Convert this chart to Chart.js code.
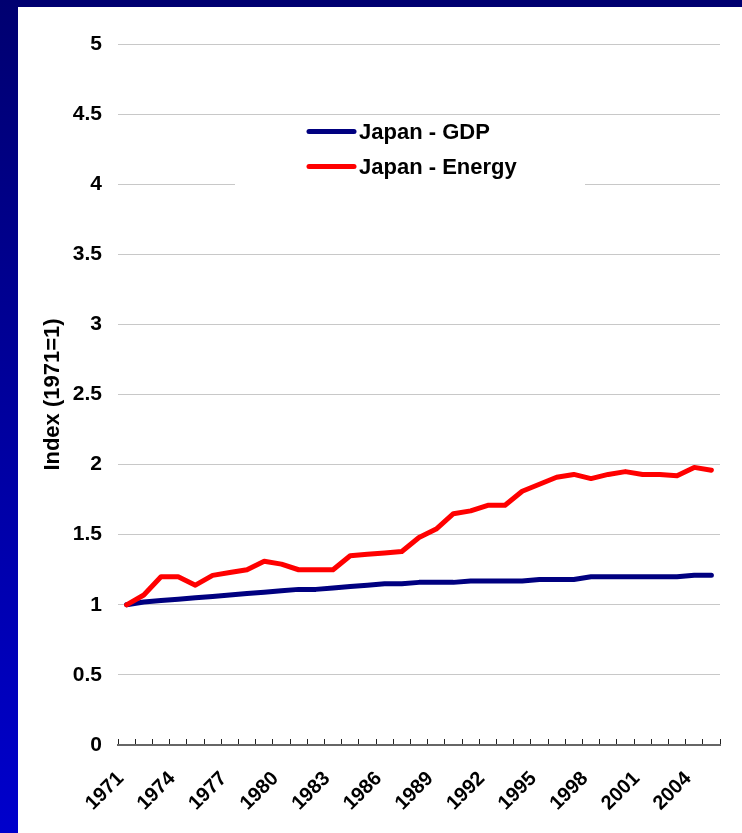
<!DOCTYPE html>
<html>
<head>
<meta charset="utf-8">
<script src="https://cdn.jsdelivr.net/npm/chart.js@4/dist/chart.umd.min.js"></script>
<style>
    html, body {
        margin: 0;
        padding: 0;
    }
    body {
        width: 742px;
        height: 833px;
        overflow: hidden;
        background: linear-gradient(to bottom, #000070, #0000cc);
        position: relative;
    }
    .panel {
        position: absolute;
        left: 18px;
        top: 7px;
        width: 724px;
        height: 826px;
        background: #ffffff;
    }
</style>
</head>
<body>
<div class="panel">
    <canvas id="indexChart" width="724" height="826"></canvas>
</div>
<script>
const years = [
    '1971', '1972', '1973', '1974', '1975', '1976', '1977', '1978', '1979', '1980',
    '1981', '1982', '1983', '1984', '1985', '1986', '1987', '1988', '1989', '1990',
    '1991', '1992', '1993', '1994', '1995', '1996', '1997', '1998', '1999', '2000',
    '2001', '2002', '2003', '2004', '2005'
];

const japanGdp = [
    1.00, 1.02, 1.03, 1.04, 1.05, 1.06, 1.07, 1.08, 1.09, 1.10,
    1.11, 1.11, 1.12, 1.13, 1.14, 1.15, 1.15, 1.16, 1.16, 1.16,
    1.17, 1.17, 1.17, 1.17, 1.18, 1.18, 1.18, 1.20, 1.20, 1.20,
    1.20, 1.20, 1.20, 1.21, 1.21
];

const japanEnergy = [
    1.00, 1.07, 1.20, 1.20, 1.14, 1.21, 1.23, 1.25, 1.31, 1.29,
    1.25, 1.25, 1.25, 1.35, 1.36, 1.37, 1.38, 1.48, 1.54, 1.65,
    1.67, 1.71, 1.71, 1.81, 1.86, 1.91, 1.93, 1.90, 1.93, 1.95,
    1.93, 1.93, 1.92, 1.98, 1.96
];

const seriesNames = ['Japan - GDP', 'Japan - Energy'];
const seriesColors = ['#000080', '#ff0000'];

const fontFamily = '"Liberation Sans", Arial, sans-serif';

// legend drawn inside the plot, on a white box that hides the grid behind it
const boxLegend = {
    id: 'boxLegend',
    afterDatasetsDraw(chart) {
        const ctx = chart.ctx;
        ctx.save();
        ctx.fillStyle = '#ffffff';
        ctx.fillRect(217, 110, 350, 76);
        chart.data.datasets.forEach((ds, i) => {
            const y = 124.5 + i * 35;
            ctx.strokeStyle = ds.borderColor;
            ctx.lineWidth = 5;
            ctx.lineCap = 'round';
            ctx.beginPath();
            ctx.moveTo(291, y);
            ctx.lineTo(336, y);
            ctx.stroke();
            ctx.fillStyle = '#000000';
            ctx.font = 'bold 22px ' + fontFamily;
            ctx.textBaseline = 'middle';
            ctx.fillText(ds.label, 341, y + 1);
        });
        ctx.restore();
    }
};

const ctx = document.getElementById('indexChart').getContext('2d');
new Chart(ctx, {
    type: 'line',
    data: {
        labels: years,
        datasets: [
            {
                label: seriesNames[0],
                data: japanGdp,
                borderColor: seriesColors[0],
                backgroundColor: seriesColors[0],
                borderWidth: 5,
                pointRadius: 0,
                tension: 0,
                borderCapStyle: 'round',
                borderJoinStyle: 'round',
                order: 1
            },
            {
                label: seriesNames[1],
                data: japanEnergy,
                borderColor: seriesColors[1],
                backgroundColor: seriesColors[1],
                borderWidth: 5,
                pointRadius: 0,
                tension: 0,
                borderCapStyle: 'round',
                borderJoinStyle: 'round',
                order: 0
            }
        ]
    },
    options: {
        responsive: false,
        animation: false,
        layout: {
            padding: {
                top: 37,
                right: 22,
                left: 0,
                bottom: 0
            }
        },
        plugins: {
            legend: {
                display: false
            },
            tooltip: {
                enabled: false
            }
        },
        scales: {
            x: {
                offset: true,
                afterFit: (scale) => {
                    scale.height = 88;
                    scale.paddingLeft = 0;
                    scale.paddingRight = 0;
                },
                grid: {
                    offset: true,
                    drawOnChartArea: false,
                    drawTicks: true,
                    tickLength: -6,
                    color: '#222222',
                    lineWidth: 1
                },
                border: {
                    display: true,
                    color: '#666666',
                    width: 2
                },
                ticks: {
                    autoSkip: false,
                    maxRotation: 45,
                    minRotation: 45,
                    padding: 28,
                    labelOffset: -6,
                    color: '#000000',
                    font: {
                        family: fontFamily,
                        size: 20,
                        weight: 'bold'
                    },
                    callback: function (value, index) {
                        return index % 3 === 0 ? this.getLabelForValue(value) : '';
                    }
                }
            },
            y: {
                min: 0,
                max: 5,
                afterFit: (scale) => {
                    scale.width = 100;
                },
                grid: {
                    color: '#c8c8c8',
                    lineWidth: 1,
                    drawTicks: false
                },
                border: {
                    display: false
                },
                ticks: {
                    stepSize: 0.5,
                    padding: 16,
                    color: '#000000',
                    font: {
                        family: fontFamily,
                        size: 21,
                        weight: 'bold'
                    },
                    callback: (value) => String(value)
                },
                title: {
                    display: true,
                    text: 'Index (1971=1)',
                    color: '#000000',
                    padding: { top: 22, bottom: 0 },
                    font: {
                        family: fontFamily,
                        size: 22,
                        weight: 'bold'
                    }
                }
            }
        }
    },
    plugins: [boxLegend]
});
</script>
</body>
</html>
